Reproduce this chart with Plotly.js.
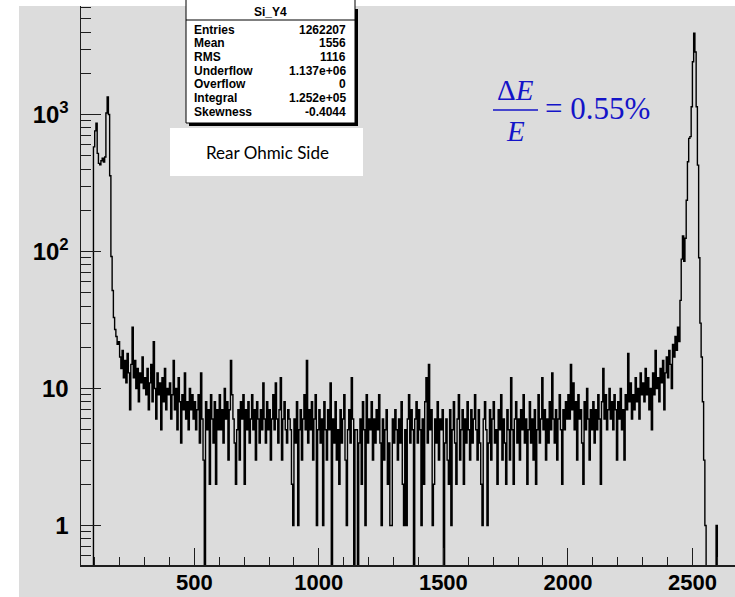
<!DOCTYPE html>
<html><head><meta charset="utf-8">
<script src="https://cdn.plot.ly/plotly-3.0.1.min.js"></script>
<style>
html,body{margin:0;padding:0;background:#fff;}
#bg{position:absolute;left:19px;top:6px;width:716px;height:591px;background:#dcdcdc;}
#chart{position:absolute;left:0;top:0;width:735px;height:597px;}
</style></head><body>
<div id="bg"></div><div id="chart"></div>
<script>
// ---- data (histogram Si_Y4, bin width 5 channels) ----
const binWidth = 5;
const lowPeakStart = 90;
const lowPeakCounts = [0,580,760,863,520,440,430,460,480,450,490,1025,1344,1000,357,92,52,33,27,24,21];
const plateauStart = 195;
const plateauCounts = [
 22,17,14,19,12,16,11,18,13,7,15,28,12,16,10,14,8,13,11,17,10,
 12,9,14,7,11,15,8,22,10,6,13,9,11,5,12,8,14,7,10,9,
 11,6,9,16,7,10,5,12,8,4,9,7,13,6,8,5,10,7,9,6,
 8,5,7,9,4,13,6,3,0,8,5,7,2,9,6,4,8,2,7,5,
 9,5,7,4,10,6,8,3,7,16,9,6,4,2,5,7,3,8,6,9,
 2,7,5,8,4,6,9,5,7,3,8,6,4,7,5,11,6,4,8,5,
 7,3,6,9,5,11,6,4,7,12,3,6,8,5,4,7,6,5,2,1,
 6,4,8,1,5,7,3,6,9,5,16,4,7,5,8,3,6,9,1,5,
 7,4,6,1,8,5,3,7,5,11,0,6,4,8,3,5,2,7,4,6,
 9,3,1,5,7,4,12,6,0,5,5,0,4,6,2,8,5,1,9,4,
 6,5,8,3,6,4,7,5,9,4,1,6,3,5,7,2,4,1,1,6,
 4,7,5,3,6,4,8,2,1,5,1,6,9,4,7,5,0,6,8,4,
 7,5,1,6,2,8,12,4,15,5,7,1,2,6,4,8,3,6,5,7,
 0,4,6,3,2,7,1,5,8,4,2,6,9,3,5,7,2,6,4,8,
 5,3,7,4,6,9,5,3,7,4,2,1,6,8,5,1,4,7,3,6,
 8,4,5,2,7,5,9,3,6,4,2,7,5,3,12,5,2,6,8,4,
 6,3,7,5,9,4,6,2,5,8,4,6,3,7,2,5,9,4,6,12,
 5,7,3,6,4,8,5,13,6,4,7,3,6,9,5,2,7,5,8,6,
 9,6,15,7,11,5,8,3,9,6,7,4,2,8,5,10,6,3,7,5,
 8,4,7,5,9,6,2,8,14,6,9,5,7,10,6,8,5,9,7,3,
 8,6,10,5,7,3,9,7,18,8,11,6,9,7,12,8,10,6,13,9,
 11,8,14,9,12,7,10,5,13,9,19,10,12,8,14,11,16,7,13,17,
 12,19,15,10,21,17,24,19,28,22,44
];
const highPeakStart = 2455;
const highPeakCounts = [88,130,85,125,237,452,670,690,1140,2430,3915,2860,1140,427,90,30,17,8,3,1,0,0,0,0,0,0,0,0,1,0];

const xTickVals = [500,1000,1500,2000,2500];
const yTickVals = [1,10,100,1000];
const yTickText = ['1','10','10<sup>2</sup>','10<sup>3</sup>'];

const statsTitle = 'Si_Y4';
const statsNames = ['Entries','Mean','RMS','Underflow','Overflow','Integral','Skewness'];
const statsValues = ['1262207','1556','1116','1.137e+06','0','1.252e+05','-0.4044'];
const sideLabel = 'Rear Ohmic Side';

// ---- build step outline ----
const xs = [], ys = [];
function addSeg(start, counts){
  counts.forEach((c,i)=>{ xs.push(start + i*binWidth); ys.push(c > 0 ? c : 0.1); });
}
addSeg(lowPeakStart, lowPeakCounts);
addSeg(plateauStart, plateauCounts);
addSeg(highPeakStart, highPeakCounts);
xs.push(highPeakStart + highPeakCounts.length*binWidth); ys.push(0.1);

const xMinor = [];
for (let v=100; v<=2600; v+=100) if (v%500) xMinor.push(v);
const yMinor = [];
[0.1,1,10,100,1000].forEach(d=>{ for(let k=2;k<=9;k++){ const v=k*d; if(v>0.5 && v<6300) yMinor.push(v);} });

// ---- layout helpers (pixel -> paper) ----
const L=81, T=6, W=654, H=559;
const fx = px => (px-L)/W, fy = py => (T+H-py)/H;

const ann = [];
const shapes = [];
// stats box
shapes.push({type:'rect',xref:'paper',yref:'paper',x0:fx(189),x1:fx(358),y0:fy(126),y1:fy(9),fillcolor:'#000',line:{width:0}});
shapes.push({type:'rect',xref:'paper',yref:'paper',x0:fx(186),x1:fx(355),y0:fy(123),y1:fy(-5),fillcolor:'#fff',line:{color:'#000',width:1}});
shapes.push({type:'line',xref:'paper',yref:'paper',x0:fx(186),x1:fx(355),y0:fy(20),y1:fy(20),line:{color:'#000',width:1}});
const sf = {family:'Liberation Sans, Arial, sans-serif',size:12,color:'#000',weight:'bold'};
ann.push({xref:'paper',yref:'paper',x:fx(270.5),y:fy(11.5),text:statsTitle,showarrow:false,xanchor:'center',yanchor:'middle',font:sf});
statsNames.forEach((n,i)=>{
  const yy = fy(29.5 + i*13.7);
  ann.push({xref:'paper',yref:'paper',x:fx(192),y:yy,text:n,showarrow:false,xanchor:'left',yanchor:'middle',font:sf});
  ann.push({xref:'paper',yref:'paper',x:fx(348),y:yy,text:statsValues[i],showarrow:false,xanchor:'right',yanchor:'middle',font:sf});
});
// Rear Ohmic Side box
shapes.push({type:'rect',xref:'paper',yref:'paper',x0:fx(170),x1:fx(363),y0:fy(176),y1:fy(128),fillcolor:'#fff',line:{width:0}});
ann.push({xref:'paper',yref:'paper',x:fx(267),y:fy(152),text:sideLabel,showarrow:false,xanchor:'center',yanchor:'middle',
  font:{family:'Lato, Carlito, sans-serif',size:17,color:'#000'}});
// resolution formula
const blue = '#1414c8';
const ff = {family:'Liberation Serif, Times New Roman, serif',size:29,color:blue};
ann.push({xref:'paper',yref:'paper',x:fx(515.5),y:fy(90),text:'Δ<i>E</i>',showarrow:false,xanchor:'center',yanchor:'middle',font:ff});
ann.push({xref:'paper',yref:'paper',x:fx(515.5),y:fy(131),text:'<i>E</i>',showarrow:false,xanchor:'center',yanchor:'middle',font:ff});
shapes.push({type:'line',xref:'paper',yref:'paper',x0:fx(493),x1:fx(538),y0:fy(110),y1:fy(110),line:{color:blue,width:1.5}});
ann.push({xref:'paper',yref:'paper',x:fx(543),y:fy(109),text:'= 0.55%',showarrow:false,xanchor:'left',yanchor:'middle',
  font:{family:'Liberation Serif, Times New Roman, serif',size:31,color:blue}});

const axCol = '#1e1e1e';
const tickFont = {family:'Liberation Sans, Arial, sans-serif',size:22,color:'#000',weight:'bold'};

Plotly.newPlot('chart',[{
  x: xs, y: ys, type:'scatter', mode:'lines',
  line:{color:'#000',width:1.4,shape:'hv'}, hoverinfo:'skip', showlegend:false
}],{
  width:735, height:597,
  margin:{l:L,r:0,t:T,b:597-T-H,pad:0},
  paper_bgcolor:'rgba(0,0,0,0)', plot_bgcolor:'rgba(0,0,0,0)',
  showlegend:false,
  xaxis:{range:[45,2671],showgrid:false,zeroline:false,showline:true,linecolor:axCol,linewidth:1.5,
    ticks:'inside',ticklen:17,tickwidth:1,tickcolor:axCol,tickmode:'array',tickvals:xTickVals,
    tickfont:tickFont,ticklabelstandoff:-3,
    minor:{tickmode:'array',tickvals:xMinor,ticks:'inside',ticklen:8,tickwidth:1,tickcolor:axCol,showgrid:false}},
  yaxis:{type:'log',range:[-0.288,3.792],showgrid:false,zeroline:false,showline:true,linecolor:axCol,linewidth:1.5,
    ticks:'inside',ticklen:20,tickwidth:1,tickcolor:axCol,tickmode:'array',tickvals:yTickVals,ticktext:yTickText,
    tickfont:Object.assign({},tickFont,{size:24}),ticklabelstandoff:6,
    minor:{tickmode:'array',tickvals:yMinor,ticks:'inside',ticklen:10,tickwidth:1,tickcolor:axCol,showgrid:false}},
  shapes:shapes, annotations:ann
},{displayModeBar:false,staticPlot:true});
</script>
</body></html>
